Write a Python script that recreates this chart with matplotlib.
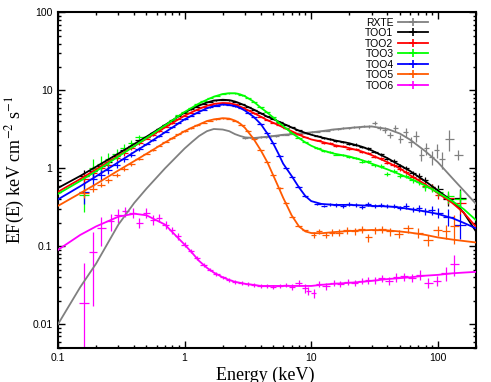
import numpy as np
import matplotlib
matplotlib.use("Agg")
import matplotlib.pyplot as plt
from matplotlib.lines import Line2D
from matplotlib.ticker import FuncFormatter, NullFormatter

plt.rcParams['font.family'] = 'Liberation Sans'
plt.rcParams['mathtext.fontset'] = 'stix'

# ---- model curves (energy in keV, EF(E) in keV cm^-2 s^-1) ----
model_e = [0.1, 0.15, 0.2, 0.3, 0.4, 0.5, 0.7, 1.0, 1.15, 1.3, 1.5, 1.7, 2.0, 2.25, 2.5, 2.75, 3.0, 3.5, 4.0, 4.5,
           5.0, 5.5, 6.0, 7.0, 8.0, 9.0, 10, 12, 15, 20, 25, 30, 40, 50, 60, 80, 100, 130, 160, 200]
rxte_model = [0.01, 0.03, 0.06, 0.19, 0.36, 0.55, 1.0, 1.8, 2.2, 2.6, 3.0, 3.2, 3.15, 3.0, 2.75, 2.6, 2.5, 2.45, 2.5, 2.55,
              2.6, 2.65, 2.7, 2.75, 2.8, 2.85, 2.9, 3.0, 3.15, 3.3, 3.4, 3.45, 3.2, 2.8, 2.35, 1.65, 1.2, 0.75, 0.52, 0.35]
too1_model = [0.56, 0.8, 1.05, 1.55, 2.05, 2.55, 3.6, 5.2, 5.85, 6.4, 7.0, 7.4, 7.6, 7.5, 7.2, 6.8, 6.4, 5.7, 5.1, 4.6,
              4.3, 4.0, 3.75, 3.35, 3.05, 2.85, 2.7, 2.5, 2.3, 2.1, 1.9, 1.7, 1.35, 1.1, 0.93, 0.68, 0.52, 0.38, 0.27, 0.155]
too2_model = [0.5, 0.73, 0.97, 1.45, 1.93, 2.4, 3.35, 4.75, 5.3, 5.8, 6.35, 6.7, 6.9, 6.85, 6.6, 6.2, 5.8, 5.15, 4.6, 4.15,
              3.85, 3.6, 3.35, 3.0, 2.7, 2.5, 2.35, 2.2, 2.0, 1.82, 1.65, 1.48, 1.2, 1.0, 0.82, 0.62, 0.48, 0.36, 0.27, 0.178]
too3_model = [0.47, 0.69, 0.92, 1.42, 1.93, 2.45, 3.55, 5.3, 6.05, 6.8, 7.6, 8.3, 9.0, 9.2, 9.2, 8.9, 8.4, 7.2, 6.0, 5.2,
              4.5, 3.9, 3.5, 2.85, 2.45, 2.15, 1.95, 1.72, 1.55, 1.42, 1.28, 1.15, 0.97, 0.84, 0.74, 0.6, 0.49, 0.38, 0.3, 0.217]
too4_model = [0.40, 0.59, 0.79, 1.2, 1.62, 2.03, 2.9, 4.25, 4.8, 5.3, 5.9, 6.3, 6.6, 6.5, 6.3, 5.95, 5.5, 4.6, 3.7, 2.8,
              2.1, 1.55, 1.15, 0.8, 0.57, 0.44, 0.38, 0.35, 0.34, 0.34, 0.335, 0.33, 0.325, 0.315, 0.3, 0.28, 0.26, 0.23, 0.2, 0.17]
too5_model = [0.33, 0.48, 0.63, 0.94, 1.24, 1.54, 2.15, 3.0, 3.35, 3.65, 4.05, 4.25, 4.4, 4.35, 4.1, 3.75, 3.3, 2.4, 1.7, 1.2,
              0.82, 0.58, 0.42, 0.25, 0.18, 0.155, 0.148, 0.147, 0.152, 0.157, 0.16, 0.162, 0.16, 0.155, 0.15, 0.14, 0.13, 0.122, 0.117, 0.112]
too6_model = [0.09, 0.14, 0.18, 0.24, 0.262, 0.25, 0.19, 0.105, 0.082, 0.065, 0.053, 0.046, 0.04, 0.037, 0.035, 0.034, 0.033, 0.032, 0.031, 0.031,
              0.031, 0.031, 0.031, 0.031, 0.031, 0.031, 0.031, 0.032, 0.033, 0.034, 0.035, 0.036, 0.038, 0.039, 0.04, 0.042, 0.043, 0.045, 0.046, 0.047]

# ---- data points ----
# RXTE
rxte_e = [3.0, 3.3, 3.6, 4.0, 4.4, 4.8, 5.3, 5.8, 6.4, 7.0, 7.7, 8.5, 9.3, 10.2, 11.2, 12.3, 13.5, 14.8, 16.3, 17.9,
          19.7, 21.6, 23.8, 26.1, 28.7, 31.6, 34.7, 38.1, 41.9, 46.1, 50.6, 55.6, 61.1, 67.2, 73.8, 81.1, 89.1, 98, 108, 122, 145]
rxte_f = [2.45, 2.5, 2.42, 2.52, 2.5, 2.6, 2.6, 2.7, 2.7, 2.78, 2.75, 2.85, 2.83, 2.93, 2.95, 3.05, 3.05, 3.18, 3.2, 3.3,
          3.28, 3.4, 3.35, 3.5, 3.45, 3.8, 3.3, 3.1, 2.7, 3.3, 2.4, 2.9, 2.2, 2.6, 1.5, 1.8, 1.4, 1.7, 1.3, 2.4, 1.5]
rxte_err = [0.02] * 20 + [0.03, 0.03, 0.04, 0.04, 0.05, 0.06, 0.07, 0.08, 0.1, 0.1, 0.12, 0.12, 0.14, 0.15,
                          0.18, 0.18, 0.2, 0.2, 0.25, 0.3, 0.15]

# low energy sparse points
low_e = [0.16, 0.19, 0.22, 0.25, 0.29, 0.33, 0.38, 0.44]
too1_lo = [0.8, 0.93, 1.08, 1.2, 1.45, 1.7, 1.95, 2.3]
too2_lo = [0.72, 0.86, 1.0, 1.12, 1.35, 1.57, 1.82, 2.12]
too3_lo = [0.46, 1.0, 1.15, 1.3, 1.55, 1.8, 2.1, 2.5]
too4_lo = [0.5, 0.72, 0.82, 0.95, 1.12, 1.3, 1.5, 1.78]
too5_lo = [0.48, 0.55, 0.62, 0.7, 0.83, 0.98, 1.13, 1.33]
too1_lo_err = [0.2, 0.15, 0.12, 0.1, 0.08, 0.07, 0.06, 0.05]
too3_lo_err = [0.4, 0.3, 0.25, 0.2, 0.16, 0.13, 0.1, 0.08]
too4_lo_err = [0.3, 0.2, 0.15, 0.12, 0.1, 0.08, 0.07, 0.06]
too5_lo_err = [0.12, 0.1, 0.08, 0.07, 0.06, 0.05, 0.05, 0.04]
too6_lo_e = [0.16, 0.19, 0.22, 0.26, 0.3, 0.34, 0.39, 0.44]
too6_lo = [0.019, 0.085, 0.17, 0.21, 0.25, 0.28, 0.27, 0.2]
too6_lo_err = [2.2, 0.8, 0.4, 0.25, 0.2, 0.15, 0.15, 0.15]

# dense points 0.5-9 keV
xmm_e = [0.5, 0.56, 0.63, 0.71, 0.79, 0.89, 1.0, 1.12, 1.26, 1.41, 1.58, 1.78, 2.0, 2.24, 2.51,
         2.82, 3.16, 3.55, 3.98, 4.47, 5.01, 5.62, 6.31, 7.08, 7.94, 8.91]
too1_d = [2.55, 2.85, 3.2, 3.65, 4.1, 4.7, 5.2, 5.7, 6.2, 6.7, 7.15, 7.5, 7.6, 7.45, 7.2,
          6.7, 6.2, 5.65, 5.1, 4.65, 4.3, 3.95, 3.65, 3.35, 3.08, 2.87]
too2_d = [2.4, 2.65, 3.0, 3.4, 3.8, 4.3, 4.75, 5.2, 5.65, 6.1, 6.5, 6.8, 6.9, 6.8, 6.6,
          6.1, 5.6, 5.1, 4.6, 4.2, 3.85, 3.55, 3.25, 2.95, 2.72, 2.52]
too3_d = [2.5, 2.85, 3.2, 3.65, 4.2, 4.8, 5.35, 5.9, 6.6, 7.3, 8.0, 8.55, 9.0, 9.2, 9.2,
          8.7, 8.0, 7.1, 6.05, 5.25, 4.5, 3.85, 3.3, 2.85, 2.48, 2.18]
too4_d = [2.05, 2.3, 2.6, 2.95, 3.35, 3.85, 4.25, 4.7, 5.2, 5.65, 6.05, 6.4, 6.6, 6.55, 6.3,
          5.9, 5.2, 4.5, 3.7, 2.85, 2.1, 1.45, 1.0, 0.78, 0.58, 0.44]
too5_d = [1.54, 1.72, 1.95, 2.2, 2.45, 2.75, 3.0, 3.25, 3.55, 3.85, 4.1, 4.3, 4.4, 4.35, 4.1,
          3.6, 3.05, 2.35, 1.72, 1.22, 0.82, 0.56, 0.36, 0.24, 0.18, 0.16]
too6_d = [0.27, 0.22, 0.23, 0.19, 0.16, 0.135, 0.105, 0.087, 0.07, 0.058, 0.05, 0.044, 0.04, 0.037, 0.035,
          0.034, 0.033, 0.032, 0.031, 0.031, 0.03, 0.031, 0.032, 0.03, 0.034, 0.029]
too6_d_err = [0.15, 0.15, 0.12, 0.12, 0.1, 0.1, 0.08, 0.07, 0.06, 0.06, 0.05, 0.05, 0.05, 0.05, 0.05,
              0.05, 0.05, 0.05, 0.05, 0.05, 0.06, 0.06, 0.07, 0.08, 0.1, 0.12]

# high energy points
hi_e = [11.2, 12.6, 14.1, 15.8, 17.8, 20, 22.4, 25.1, 28.2, 31.6, 35.5, 39.8, 44.7, 50.1, 56.2,
        63.1, 70.8, 79.4, 89.1, 100, 120, 150]
too1_hi = [2.62, 2.45, 2.4, 2.25, 2.2, 2.05, 2.02, 1.88, 1.8, 1.62, 1.52, 1.33, 1.25, 1.07, 1.01,
           0.86, 0.8, 0.7, 0.58, 0.55, 0.4, 0.42]
too2_hi = [2.28, 2.12, 2.1, 1.95, 1.92, 1.78, 1.76, 1.62, 1.58, 1.41, 1.35, 1.18, 1.12, 0.97, 0.9,
           0.77, 0.73, 0.6, 0.57, 0.46, 0.42, 0.36]
too3_hi = [1.82, 1.66, 1.62, 1.5, 1.48, 1.38, 1.37, 1.22, 1.23, 1.1, 1.07, 0.85, 0.92, 0.8, 0.8,
           0.7, 0.67, 0.57, 0.56, 0.5, 0.44, 0.4]
too4_hi = [0.35, 0.33, 0.345, 0.34, 0.33, 0.35, 0.34, 0.32, 0.345, 0.33, 0.34, 0.325, 0.33, 0.31, 0.33,
           0.3, 0.31, 0.28, 0.29, 0.27, 0.24, 0.19]
hi_err = [0.02, 0.02, 0.025, 0.025, 0.03, 0.03, 0.035, 0.035, 0.04, 0.04, 0.05, 0.05, 0.06, 0.06, 0.07,
          0.08, 0.08, 0.1, 0.1, 0.12, 0.18, 0.3]
too4_hi_err = [0.04, 0.04, 0.04, 0.05, 0.05, 0.05, 0.05, 0.05, 0.06, 0.06, 0.06, 0.06, 0.07, 0.07, 0.08,
               0.08, 0.1, 0.1, 0.12, 0.15, 0.25, 0.35]
too5_hi_e = [10.5, 11.5, 13, 14.5, 16.5, 19, 22, 25, 28, 32, 36, 42, 49, 58, 70, 84, 100, 115, 135]
too5_hi = [0.14, 0.155, 0.14, 0.15, 0.15, 0.16, 0.155, 0.165, 0.13, 0.16, 0.165, 0.155, 0.145, 0.17, 0.15,
           0.12, 0.16, 0.155, 0.18]
too5_hi_err = [0.08, 0.08, 0.1, 0.1, 0.1, 0.1, 0.1, 0.1, 0.12, 0.1, 0.1, 0.12, 0.12, 0.12, 0.15,
               0.15, 0.15, 0.2, 0.4]
too6_hi_e = [9.5, 10.5, 11.5, 13, 15, 17, 19.5, 22, 25, 28, 32, 36, 41, 47, 54, 62, 72, 84, 98, 115, 135]
too6_hi = [0.027, 0.025, 0.033, 0.031, 0.034, 0.033, 0.035, 0.034, 0.036, 0.037, 0.037, 0.039, 0.036, 0.04,
           0.041, 0.039, 0.043, 0.034, 0.036, 0.045, 0.06]
too6_hi_err = [0.12, 0.12, 0.1, 0.1, 0.1, 0.1, 0.1, 0.1, 0.1, 0.1, 0.1, 0.1, 0.12, 0.12, 0.12,
               0.12, 0.15, 0.15, 0.15, 0.2, 0.3]

labels = ['RXTE', 'TOO1', 'TOO2', 'TOO3', 'TOO4', 'TOO5', 'TOO6']
colors = ['#808080', '#000000', '#ff0000', '#00ff00', '#0000ff', '#ff5a00', '#ff00ff']


def bin_halfwidths(e):
    e = np.asarray(e, dtype=float)
    edges = np.sqrt(e[1:] * e[:-1])
    lo = np.concatenate([[e[0] ** 2 / edges[0]], edges])
    hi = np.concatenate([edges, [e[-1] ** 2 / edges[-1]]])
    return [e - lo, hi - e]


def draw_points(ax, e, f, err, color):
    f = np.asarray(f, dtype=float)
    ax.errorbar(e, f, xerr=bin_halfwidths(e), yerr=f * np.asarray(err),
                fmt='none', ecolor=color, elinewidth=0.9, capsize=0, zorder=2)


fig = plt.figure(figsize=(4.91, 3.82), dpi=100)
ax = fig.add_axes([0.1181, 0.0898, 0.8513, 0.8775])

models = [rxte_model, too1_model, too2_model, too3_model, too4_model, too5_model, too6_model]

# RXTE
draw_points(ax, rxte_e, rxte_f, rxte_err, colors[0])
ax.plot(model_e, rxte_model, color=colors[0], lw=1.3, zorder=3)

sets = [
    (too1_lo, too1_lo_err, too1_d, 0.012, hi_e, too1_hi, hi_err),
    (too2_lo, too1_lo_err, too2_d, 0.012, hi_e, too2_hi, hi_err),
    (too3_lo, too3_lo_err, too3_d, 0.012, hi_e, too3_hi, hi_err),
    (too4_lo, too4_lo_err, too4_d, 0.015, hi_e, too4_hi, too4_hi_err),
    (too5_lo, too5_lo_err, too5_d, 0.015, too5_hi_e, too5_hi, too5_hi_err),
]
for i, (lo, lo_err, d, d_err, he, hf, herr) in enumerate(sets):
    c = colors[i + 1]
    draw_points(ax, low_e, lo, lo_err, c)
    draw_points(ax, xmm_e, d, [d_err] * len(d), c)
    draw_points(ax, he, hf, herr, c)
    ax.plot(model_e, models[i + 1], color=c, lw=1.3, zorder=3)

# TOO6
draw_points(ax, too6_lo_e, too6_lo, too6_lo_err, colors[6])
draw_points(ax, xmm_e, too6_d, too6_d_err, colors[6])
draw_points(ax, too6_hi_e, too6_hi, too6_hi_err, colors[6])
ax.plot(model_e, too6_model, color=colors[6], lw=1.3, zorder=3)

ax.set_xscale('log')
ax.set_yscale('log')
ax.set_xlim(0.1, 200)
ax.set_ylim(0.005, 100)

fmt = FuncFormatter(lambda v, p: '%g' % v)
ax.xaxis.set_major_formatter(fmt)
ax.yaxis.set_major_formatter(fmt)
ax.xaxis.set_minor_formatter(NullFormatter())
ax.yaxis.set_minor_formatter(NullFormatter())
ax.tick_params(which='both', direction='in', top=True, right=True, labelsize=7.5, pad=4)
ax.tick_params(which='major', length=5, width=1)
ax.tick_params(which='minor', length=2.5, width=1)
for s in ax.spines.values():
    s.set_linewidth(1.5)

ax.set_xlabel('Energy (keV)', fontfamily='Liberation Serif', fontsize=13)
ax.set_ylabel('EF(E) keV cm$^{-2}$ s$^{-1}$', fontfamily='Liberation Serif', fontsize=13)
ax.xaxis.set_label_coords(0.495, -0.058)
ax.yaxis.set_label_coords(-0.074, 0.53)

handles = [Line2D([0], [0], color=c, lw=1.3, marker='+', markersize=6, markeredgewidth=1.2) for c in colors]
ax.legend(handles, labels, loc='upper right', bbox_to_anchor=(0.885, 0.985), frameon=False,
          markerfirst=False, fontsize=7.5, labelspacing=0.05, handlelength=2.9,
          handletextpad=0.4, borderpad=0, borderaxespad=0)

fig.savefig('out.png', dpi=100)
